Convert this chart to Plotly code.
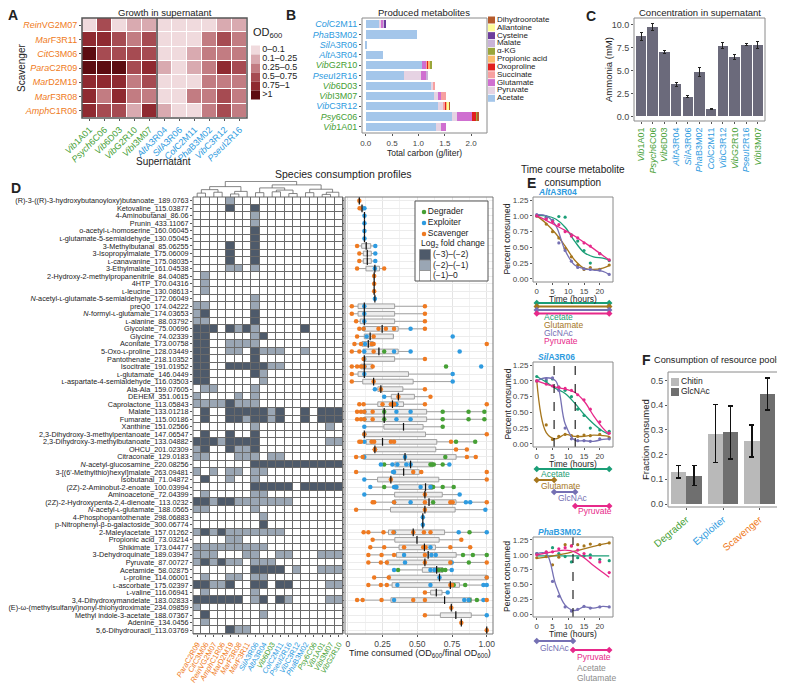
import numpy as np
import plotly.graph_objects as go

# the page body adds an 8px margin, so the figure is 8px smaller and positions are shifted
OX, OY = 8, 8
W, H = 785 - OX, 684 - OY
FONT = "Liberation Sans, Arial, sans-serif"
TXT = "#222222"

GREEN = "#46a035"
BLUE = "#2e9be0"
ORANGE = "#ef7a21"
GROUP_COLOR = {"D": GREEN, "E": BLUE, "S": ORANGE}

# ---------------- panel A: growth in supernatant ----------------
A_ROWS = [("Rein", "VG2M07"), ("Mar", "F3R11"), ("Cit", "C3M06"), ("Para", "C2R09"),
          ("Mar", "D2M19"), ("Mar", "F3R08"), ("Amph", "C1R06")]
A_COLS = [("Vib", "1A01", "D"), ("Psych", "6C06", "D"), ("Vib", "6D03", "D"), ("Vib", "G2R10", "D"),
          ("Vib", "I3M07", "D"), ("Alt", "A3R04", "E"), ("Sil", "A3R06", "E"), ("Col", "C2M11", "E"),
          ("Pha", "B3M02", "E"), ("Vib", "C3R12", "E"), ("Pseu", "I2R16", "E")]
A_BINS = ["0\u20130.1", "0.1\u20130.25", "0.25\u20130.5", "0.5\u20130.75", "0.75\u20131", ">1"]
A_COLORS = ["#f0dadd", "#d9aab0", "#c27c82", "#a64b52", "#8f2a31", "#5d0c11"]
A_LEVEL = [
    [0, 3, 0, 1, 1, 0, 0, 0, 0, 1, 1],
    [4, 4, 3, 2, 3, 0, 0, 0, 2, 3, 2],
    [5, 3, 3, 3, 3, 0, 0, 1, 2, 2, 2],
    [5, 5, 5, 3, 4, 1, 0, 1, 2, 4, 3],
    [4, 4, 4, 2, 3, 0, 0, 0, 2, 2, 2],
    [4, 2, 4, 2, 2, 0, 0, 2, 2, 3, 2],
    [4, 3, 3, 1, 4, 1, 0, 0, 2, 3, 2],
]

# ---------------- panel B: produced metabolites ----------------
B_STRAINS = [("Col", "C2M11", "E"), ("Pha", "B3M02", "E"), ("Sil", "A3R06", "E"), ("Alt", "A3R04", "E"),
             ("Vib", "G2R10", "D"), ("Pseu", "I2R16", "E"), ("Vib", "6D03", "D"), ("Vib", "I3M07", "D"),
             ("Vib", "C3R12", "E"), ("Psy", "6C06", "D"), ("Vib", "1A01", "D")]
B_METABOLITES = ["Acetate", "Pyruvate", "Glutamate", "Succinate", "Oxoproline", "Propionic acid",
                 "\u03b1-KG", "Malate", "Cysteine", "Allantoine", "Dihydroorotate"]
B_COLORS = ["#a4c6ea", "#e6d3e3", "#cf6fd0", "#f7a0a0", "#e2201e", "#fbbd6e",
            "#9aa63a", "#c9b3d8", "#6b3d9c", "#fdfd99", "#b55a2b"]
B_CARBON = [
    [0.27, 0.97, 0.01, 0.33, 1.06, 0.72, 1.24, 1.29, 1.38, 1.64, 1.34],  # Acetate
    [0.02, 0.00, 0.00, 0.00, 0.00, 0.33, 0.05, 0.08, 0.08, 0.09, 0.08],  # Pyruvate
    [0.04, 0.00, 0.00, 0.00, 0.09, 0.09, 0.00, 0.06, 0.00, 0.28, 0.11],  # Glutamate
    [0.00, 0.00, 0.00, 0.00, 0.02, 0.00, 0.03, 0.10, 0.05, 0.00, 0.00],  # Succinate
    [0.01, 0.00, 0.00, 0.00, 0.03, 0.00, 0.00, 0.00, 0.02, 0.09, 0.00],  # Oxoproline
    [0.00, 0.00, 0.00, 0.00, 0.01, 0.00, 0.00, 0.00, 0.03, 0.00, 0.00],  # Propionic acid
    [0.00, 0.00, 0.00, 0.00, 0.04, 0.00, 0.00, 0.00, 0.00, 0.02, 0.00],  # a-KG
    [0.02, 0.00, 0.00, 0.00, 0.00, 0.05, 0.00, 0.00, 0.00, 0.00, 0.00],  # Malate
    [0.01, 0.00, 0.00, 0.00, 0.00, 0.00, 0.00, 0.00, 0.00, 0.00, 0.00],  # Cysteine
    [0.00, 0.00, 0.00, 0.00, 0.00, 0.00, 0.00, 0.00, 0.02, 0.00, 0.00],  # Allantoine
    [0.00, 0.00, 0.00, 0.00, 0.00, 0.00, 0.00, 0.00, 0.01, 0.01, 0.00],  # Dihydroorotate
]

# ---------------- panel C: ammonia ----------------
C_STRAINS = [("Vib", "1A01", "D"), ("Psych", "6C06", "D"), ("Vib", "6D03", "D"), ("Alt", "A3R04", "E"),
             ("Sil", "A3R06", "E"), ("Pha", "B3M02", "E"), ("Col", "C2M11", "E"), ("Vib", "C3R12", "E"),
             ("Vib", "G2R10", "D"), ("Pseu", "I2R16", "E"), ("Vib", "I3M07", "D")]
C_AMMONIA = [8.7, 9.7, 7.0, 3.5, 2.15, 4.8, 0.8, 7.7, 6.45, 7.8, 7.75]
C_ERR = [0.4, 0.4, 0.2, 0.2, 0.08, 0.5, 0.1, 0.3, 0.25, 0.1, 0.4]

# ---------------- panel D: consumption profiles ----------------
D_METABOLITES = [
    "(R)-3-((R)-3-hydroxybutanoyloxy)butanoate_189.0763", "Ketovaline_115.03877",
    "4-Aminobutanal_86.06", "Prunin_433.11067", "\u1d0f-acetyl-\u029f-homoserine_160.06045",
    "\u029f-glutamate-5-semialdehyde_130.05045", "3-Methylbutanal_85.06255",
    "3-Isopropylmalate_175.06009", "\u029f-canavanine_175.08035", "3-Ethylmalate_161.04538",
    "2-Hydroxy-2-methylpropanenitrile_84.04085", "4HTP_170.04316", "\u029f-leucine_130.08613",
    "<i>N</i>-acetyl-\u029f-glutamate-5-semialdehyde_172.06049", "preQ0_174.04222",
    "<i>N</i>-formyl-\u029f-glutamate_174.03653", "\u029f-alanine_88.03792", "Glycolate_75.00696",
    "Glycine_74.02339", "Aconitate_173.00758", "5-Oxo-\u029f-proline_128.03449",
    "Pantothenate_218.10352", "Isocitrate_191.01952", "\u029f-glutamate_146.0449",
    "\u029f-aspartate-4-semialdehyde_116.03503", "Ala-Ala_159.07605", "DEHEM_351.0615",
    "Caprolactone_113.05843", "Malate_133.01218", "Fumarate_115.00186", "Xanthine_151.02566",
    "2,3-Dihydroxy-3-methylpentanoate_147.06547", "2,3-Dihydroxy-3-methylbutanoate_133.04882",
    "OHCU_201.02309", "Citraconate_129.0183", "<i>N</i>-acetyl-glucosamine_220.08256",
    "3-[(6'-Methylthio)hexyl]malate_263.09481", "Isobutanal_71.04872",
    "(2Z)-2-Aminobut-2-enoate_100.03994", "Aminoacetone_72.04399",
    "(2Z)-2-Hydroxypenta-2,4-dienoate_113.0232", "<i>N</i>-acetyl-\u029f-glutamate_188.0565",
    "4-Phosphopantothenate_298.06883", "p-Nitrophenyl-\u03b2-\u1d05-galactoside_300.06774",
    "2-Maleylacetate_157.01262", "Propionic acid_73.03214", "Shikimate_173.04477",
    "3-Dehydroquinate_189.03947", "Pyruvate_87.00727", "Acetamide_58.02875",
    "\u029f-proline_114.06001", "\u029f-ascorbate_175.02397", "\u029f-valine_116.06941",
    "3,4-Dihydroxymandelate_183.02833",
    "(E)-\u03c9-(methylsulfanyl)nonyl-thiohydroximate_234.09859",
    "Methyl indole-3-acetate_188.07367", "Adenine_134.0456", "5,6-Dihydrouracil_113.03769",
]
D_SPECIES = [("Para", "C2R09", "S"), ("Cit", "C3M06", "S"), ("Rein", "VG2M07", "S"), ("Amph", "C1R06", "S"),
             ("Mar", "D2M19", "S"), ("Mar", "F3R08", "S"), ("Mar", "F3R11", "S"), ("Sil", "A3R06", "E"),
             ("Alt", "A3R04", "E"), ("Vib", "6D03", "D"), ("Col", "C2M11", "E"), ("Pseu", "I2R16", "E"),
             ("Vib", "C3R12", "E"), ("Pha", "B3M02", "E"), ("Psy", "6C06", "D"), ("Vib", "1A01", "D"),
             ("Vib", "I3M07", "D"), ("Vib", "G2R10", "D")]
# log2 fold change class per cell: 0 = (-1)-0, 1 = (-2)-(-1), 2 = (-3)-(-2)
D_LEVELS = [
    "000010000000000000", "000020020000000000", "000000010000000000", "000000010000000000",
    "000000020000000000", "000000020000000000", "000020020000000000", "000020020000000000",
    "000020020000000000", "000011010000000000", "010000000000000000", "010000000000000000",
    "010000000000000000", "000000010000000000", "110000010000000000", "120000020000000000",
    "110000020000000000", "222021210000020000", "220000012000000000", "220011110000000000",
    "220011021110010000", "220000020000000000", "220022222110000000", "220000021000000000",
    "220000001000000000", "011000010000000000", "100001010000000000", "111121110000000000",
    "020022222120020222", "020022122120020222", "000000010000000010", "020020020000000000",
    "222122220000000011", "120021120000000000", "110001110110000000", "000000022222222222",
    "101011011000000000", "020010010000000000", "000000022222022222", "010000011000000000",
    "221221111111000000", "110000010000000000", "000000001000000000", "000000002000000000",
    "121211111110000000", "000011000000000000", "111111111000000000", "111000110011000111",
    "121211011100000000", "000000022220100111", "010011011000000000", "221120022022000011",
    "010000010000000000", "222222012021000011", "100000000000000000", "020000001000000000",
    "010000000000000000", "000021100000000000",
]
D_LEVEL_NAMES = ["(\u22121)\u20130", "(\u22122)\u2013(\u22121)", "(\u22123)\u2013(\u22122)"]
D_LEVEL_COLORS = ["#ffffff", "#9aa6b4", "#4e5a6a"]
# column clustering (left node, right node, height); leaves 0..17, new nodes from 18
D_LINKAGE = [
    (0, 1, 0.9), (2, 3, 1.1), (18, 19, 1.7), (4, 5, 0.7), (21, 6, 1.3), (20, 22, 2.4),
    (7, 8, 1.0), (9, 10, 1.2), (11, 12, 0.8), (25, 26, 1.6), (24, 27, 2.1),
    (13, 14, 1.0), (15, 16, 0.6), (30, 17, 1.1), (29, 31, 1.8), (28, 32, 2.8), (23, 33, 3.6),
]
# time consumed (OD600 / final OD600), by metabolite row (1-based) and group
D_SCA = {
    1: [0.083], 2: [0.085], 7: [0.067], 8: [0.083], 9: [0.083], 10: [0.067, 0.262],
    11: [0.19], 12: [0.19], 13: [0.19], 15: [0.029, 0.555], 16: [0.029, 0.555], 17: [0.06, 0.555],
    18: [0.083, 0.114, 0.221, 0.274, 0.333, 0.555], 19: [0.067, 0.186],
    20: [0.048, 0.095, 0.171, 0.186, 1.0], 21: [0.029, 0.083, 0.186], 22: [0.114, 0.555],
    23: [0.029, 0.067, 0.095, 0.119, 0.179], 24: [0.029], 25: [0.029, 0.186], 26: [0.238, 0.555],
    27: [0.364, 0.595], 28: [0.083, 0.114, 0.25, 0.31, 0.333, 0.555, 1.0],
    29: [0.067, 0.095, 0.119, 0.179], 30: [0.067, 0.095, 0.119, 0.179], 32: [0.119, 1.0],
    33: [0.083, 0.095, 0.171, 0.19, 0.31, 0.333, 0.743], 34: [0.195, 0.195, 0.195, 0.779, 0.857],
    35: [0.06, 0.107, 0.857, 0.921], 37: [0.06, 0.471, 0.529, 1.0], 38: [0.31, 1.0], 40: [0.555],
    41: [0.179, 0.19, 0.333, 0.555, 0.738, 0.755, 1.0], 42: [0.06, 0.555],
    45: [0.114, 0.148, 0.257, 0.329, 0.471, 0.548, 0.595], 46: [0.179, 0.817],
    47: [0.162, 0.262, 0.405, 0.543, 0.56, 0.738, 0.881], 48: [0.148, 0.243, 0.333, 0.555],
    49: [0.148, 0.238, 0.281, 0.555, 0.738, 1.0], 51: [0.19, 0.295, 1.0],
    52: [0.148, 0.238, 0.281, 0.738, 0.75], 53: [0.555], 54: [0.067, 0.107, 0.243, 0.471, 0.555, 1.0],
    55: [0.745], 56: [0.555], 57: [0.817], 58: [1.0],
}
D_EXP = {
    2: [0.12], 3: [0.12], 4: [0.12], 5: [0.12], 6: [0.12], 7: [0.198], 8: [0.198], 9: [0.198],
    10: [0.195], 14: [0.195], 15: [0.119], 16: [0.119], 17: [0.119], 18: [0.114, 0.452],
    19: [0.136, 0.755], 20: [0.124], 21: [0.119, 0.333, 0.452, 0.805], 22: [0.119],
    23: [0.119, 0.119, 0.96], 24: [0.119, 0.755], 25: [0.755], 26: [0.195], 27: [0.262], 28: [0.35],
    29: [0.119, 0.35, 0.452], 30: [0.119, 0.35, 0.452], 31: [0.119], 32: [0.119], 33: [0.119],
    34: [0.195], 35: [0.119, 0.412], 36: [0.238, 0.321, 0.357, 0.421, 0.452, 0.731],
    37: [0.326, 0.333], 38: [0.119], 39: [0.162, 0.333, 0.35, 0.524, 0.595], 40: [0.119, 0.805],
    41: [0.333, 0.452, 0.85, 0.881], 42: [0.99], 43: [0.54], 44: [0.54], 45: [0.333, 0.798, 1.0],
    47: [0.595], 48: [0.405, 0.602, 0.633], 49: [0.412, 0.748], 50: [0.333, 0.595, 0.624, 0.748],
    51: [0.66, 1.0], 52: [0.357, 0.595, 0.976, 1.0], 53: [0.719], 54: [0.333, 0.838, 0.869, 0.976],
    56: [1.0],
}
D_DEG = {
    21: [0.262], 23: [0.707], 29: [0.262, 0.683, 0.869, 0.983], 30: [0.262, 0.683, 0.869, 0.983],
    31: [0.683], 33: [0.779, 0.917], 35: [0.702], 36: [0.262, 0.595, 0.607, 0.619, 0.683],
    39: [0.262, 0.602, 0.614, 0.683, 0.762], 41: [0.614], 45: [0.876], 48: [0.829, 0.9, 1.0],
    49: [0.871], 50: [0.362, 0.655, 0.679, 0.702], 52: [0.762, 0.845], 54: [0.876, 0.929],
}

# ---------------- panel E: time courses ----------------
E_STRAINS = [("Alt", "A3R04"), ("Sil", "A3R06"), ("Pha", "B3M02")]
E_NAMES = ["Acetate", "Glutamate", "GlcNAc", "Pyruvate"]
E_COLORS = ["#1b9e77", "#a6761d", "#7570b3", "#e7298a"]
E_PT_T = [0, 3, 5, 7, 9, 11, 13, 15, 17, 20, 23]
E_FIT_T = [0, 3, 6, 9, 12, 15, 18, 21, 23]
E_PTS = [
    {"Acetate": [1.00, 0.98, 0.93, 0.99, 0.98, 0.70, 0.60, 0.45, 0.25, 0.40, 0.29],
     "Glutamate": [1.00, 0.87, 0.75, 0.65, 0.48, 0.35, 0.22, 0.15, 0.18, 0.15, 0.22],
     "GlcNAc": [1.02, 0.96, 0.93, 0.57, 0.45, 0.28, 0.18, 0.16, 0.15, 0.14, 0.07],
     "Pyruvate": [1.00, 0.95, 0.91, 0.86, 0.75, 0.68, 0.65, 0.57, 0.52, 0.40, 0.30]},
    {"Acetate": [1.07, 1.00, 1.03, 0.90, 0.85, 0.75, 0.55, 0.45, 0.25, 0.22, 0.20],
     "Glutamate": [1.00, 0.30, 0.07, 0.12, 0.15, 0.13, 0.12, 0.14, 0.13, 0.15, 0.10],
     "GlcNAc": [1.00, 1.03, 1.05, 0.85, 0.25, 0.08, 0.05, 0.05, 0.04, 0.08, 0.08],
     "Pyruvate": [1.00, 0.95, 0.92, 0.90, 0.88, 0.85, 0.78, 0.70, 0.55, 0.35, 0.17]},
    {"Acetate": [1.02, 1.04, 1.12, 1.02, 0.97, 0.88, 0.95, 0.98, 1.00, 0.92, 0.90],
     "Glutamate": [0.95, 0.97, 0.83, 0.96, 1.17, 1.15, 1.17, 1.15, 1.18, 1.17, 1.20],
     "GlcNAc": [1.02, 1.03, 0.55, 0.30, 0.12, 0.05, 0.08, 0.13, 0.10, 0.12, 0.12],
     "Pyruvate": [1.00, 1.05, 1.05, 1.10, 1.12, 1.15, 1.08, 1.02, 0.95, 0.88, 0.70]},
]
E_FIT = [
    {"Acetate": [1.01, 1.00, 0.95, 0.82, 0.60, 0.42, 0.35, 0.33, 0.30],
     "Glutamate": [1.00, 0.88, 0.72, 0.52, 0.30, 0.17, 0.15, 0.17, 0.21],
     "GlcNAc": [1.02, 1.00, 0.85, 0.45, 0.22, 0.16, 0.14, 0.12, 0.07],
     "Pyruvate": [1.00, 0.93, 0.85, 0.77, 0.68, 0.58, 0.48, 0.37, 0.30]},
    {"Acetate": [1.07, 0.98, 0.88, 0.80, 0.65, 0.47, 0.32, 0.20, 0.15],
     "Glutamate": [1.00, 0.18, 0.08, 0.15, 0.12, 0.12, 0.14, 0.13, 0.12],
     "GlcNAc": [1.00, 1.05, 1.00, 0.32, 0.06, 0.05, 0.04, 0.07, 0.08],
     "Pyruvate": [1.00, 0.95, 0.90, 0.87, 0.82, 0.68, 0.45, 0.25, 0.15]},
    {"Acetate": [0.98, 0.98, 0.98, 0.98, 0.98, 0.98, 0.98, 0.98, 0.98],
     "Glutamate": [0.94, 0.96, 0.99, 1.02, 1.06, 1.10, 1.14, 1.18, 1.20],
     "GlcNAc": [1.02, 1.02, 0.50, 0.15, 0.06, 0.12, 0.10, 0.13, 0.12],
     "Pyruvate": [1.00, 1.03, 1.06, 1.08, 1.05, 0.95, 0.82, 0.70, 0.62]},
]
E_WINDOWS = [
    {"Acetate": (0, 23), "Glutamate": (0, 23), "GlcNAc": (0, 23), "Pyruvate": (0, 23)},
    {"Acetate": (0, 23), "Glutamate": (0, 5.5), "GlcNAc": (5.5, 12.2), "Pyruvate": (12.2, 23)},
    {"GlcNAc": (0, 11.5), "Pyruvate": (11.5, 23)},
]
E_SWITCH = [[], [5.5, 12.2], [11.5]]

# ---------------- panel F: resource pools ----------------
F_GROUPS = [("Degrader", "D"), ("Exploiter", "E"), ("Scavenger", "S")]
F_CHITIN = [0.13, 0.285, 0.255]
F_CHITIN_ERR = [0.025, 0.117, 0.065]
F_GLCNAC = [0.115, 0.29, 0.445]
F_GLCNAC_ERR = [0.04, 0.107, 0.065]


# ---------------- helpers ----------------
def ref(prefix, i):
    return prefix if i == 1 else f"{prefix}{i}"


def strain(genus, sid, group):
    return f'<span style="color:{GROUP_COLOR[group]}"><i>{genus}</i>{sid}</span>'


def steps(colors):
    n = len(colors)
    out = []
    for k, c in enumerate(colors):
        out += [[k / n, c], [(k + 1) / n, c]]
    return out


def px(x):
    return (x - OX) / W


def py(y):
    return 1 - (y - OY) / H


layout = dict(
    width=W, height=H, margin=dict(l=0, r=0, t=0, b=0),
    paper_bgcolor="white", plot_bgcolor="white", showlegend=False,
    barmode="stack", font=dict(family=FONT, size=8, color=TXT),
)
shapes, annotations = [], []
fig = go.Figure()


def add_axes(i, x0, x1, y0, y1, xa=None, ya=None):
    base = dict(showgrid=False, zeroline=False, automargin=False, showline=False,
                ticks="", showticklabels=False, tickfont=dict(size=8, color="#333"))
    layout[ref("xaxis", i)] = {**base, "domain": [px(x0), px(x1)], "anchor": ref("y", i), **(xa or {})}
    layout[ref("yaxis", i)] = {**base, "domain": [py(y1), py(y0)], "anchor": ref("x", i), **(ya or {})}


def frame(i, color="#8a8a8a", width=1):
    shapes.append(dict(type="rect", xref=f"{ref('x', i)} domain", yref=f"{ref('y', i)} domain",
                       x0=0, x1=1, y0=0, y1=1, line=dict(color=color, width=width), layer="above"))


def text(s, x, y, size=9, color=TXT, xanchor="center", angle=0, bold=False):
    if bold:
        s = f"<b>{s}</b>"
    annotations.append(dict(text=s, x=px(x), y=py(y), xref="paper", yref="paper", showarrow=False,
                            font=dict(size=size, color=color), xanchor=xanchor, yanchor="middle",
                            textangle=angle))


TICK_OUT = dict(ticks="outside", ticklen=2, tickcolor="#555", tickwidth=0.8, showticklabels=True)

# ---------------- A ----------------
add_axes(1, 82, 247, 18, 118,
         xa=dict(range=[-0.5, 10.5], tickvals=list(range(11)), tickangle=-45,
                 ticktext=[strain(*c) for c in A_COLS], tickfont=dict(size=9), **TICK_OUT),
         ya=dict(range=[6.5, -0.5], tickvals=list(range(7)),
                 ticktext=[strain(g, s, "S") for g, s in A_ROWS], tickfont=dict(size=9), **TICK_OUT))
fig.add_trace(go.Heatmap(z=A_LEVEL, x=list(range(11)), y=list(range(7)), colorscale=steps(A_COLORS),
                         zmin=-0.5, zmax=len(A_COLORS) - 0.5, showscale=False, xgap=1, ygap=1,
                         hoverinfo="skip", xaxis="x", yaxis="y"))
shapes.append(dict(type="line", xref="x", yref="y domain", x0=4.5, x1=4.5, y0=0, y1=1,
                   line=dict(color="#555", width=1.6)))
frame(1, "#555", 1.5)
text("Growth in supernatant", 165, 12.5, size=9.5)
text("Supernatant", 163, 161, size=10)
text("Scavenger", 21, 68, size=10, angle=-90)

# legend A
add_axes(14, 250, 312, 25, 100, xa=dict(range=[0, 62]), ya=dict(range=[75, 0]))
fig.add_trace(go.Scatter(x=[5.5] * len(A_BINS), y=[25 + 9 * k for k in range(len(A_BINS))],
                         mode="markers+text", text=A_BINS, textposition="middle right",
                         textfont=dict(size=9, color=TXT),
                         marker=dict(symbol="square", size=9, color=A_COLORS),
                         hoverinfo="skip", xaxis="x14", yaxis="y14"))
annotations.append(dict(text="OD<sub>600</sub>", x=1, y=8, xref="x14", yref="y14", showarrow=False,
                        xanchor="left", yanchor="middle", font=dict(size=11, color=TXT)))

# ---------------- B ----------------
add_axes(2, 362, 487, 18, 133,
         xa=dict(range=[-0.07, 2.3], tickvals=[0, 0.5, 1, 1.5, 2], ticktext=["0.0", "0.5", "1.0", "1.5", "2.0"],
                 tickfont=dict(size=8, color="#444"), **TICK_OUT),
         ya=dict(range=[10.6, -0.6], tickvals=list(range(11)), ticktext=[strain(*s) for s in B_STRAINS],
                 tickfont=dict(size=9), **TICK_OUT))
for name, col, vals in zip(B_METABOLITES, B_COLORS, B_CARBON):
    fig.add_trace(go.Bar(x=vals, y=list(range(11)), orientation="h", marker=dict(color=col, line=dict(width=0)),
                         width=0.8, name=name, hoverinfo="skip", xaxis="x2", yaxis="y2"))
frame(2)
text("Produced metabolites", 424, 12.5, size=9.5)
text("Total carbon (g/liter)", 424, 153, size=8.5)

add_axes(15, 486, 580, 14, 102, xa=dict(range=[0, 94]), ya=dict(range=[88, 0]))
fig.add_trace(go.Scatter(x=[5.5] * 11, y=[6 + 7.83 * k for k in range(11)], mode="markers+text",
                         text=B_METABOLITES[::-1], textposition="middle right",
                         textfont=dict(size=8, color=TXT),
                         marker=dict(symbol="square", size=7, color=B_COLORS[::-1]),
                         hoverinfo="skip", xaxis="x15", yaxis="y15"))

# ---------------- C ----------------
add_axes(3, 634, 765, 18, 121,
         xa=dict(range=[-0.6, 10.6], tickvals=list(range(11)), ticktext=[strain(*s) for s in C_STRAINS],
                 tickangle=-90, tickfont=dict(size=9), **TICK_OUT),
         ya=dict(range=[-0.5, 10.7], tickvals=[0, 2.5, 5, 7.5, 10], ticktext=["0.0", "2.5", "5.0", "7.5", "10.0"],
                 tickfont=dict(size=9, color="#444"), **TICK_OUT))
fig.add_trace(go.Bar(x=list(range(11)), y=C_AMMONIA, width=0.9, marker=dict(color="#6b6a7b", line=dict(width=0)),
                     error_y=dict(type="data", array=C_ERR, color="#222", thickness=1, width=1.5),
                     hoverinfo="skip", xaxis="x3", yaxis="y3"))
frame(3)
text("Concentration in supernatant", 700, 12.5, size=9.5)
text("Ammonia (mM)", 608, 70, size=9.5, angle=-90)

# ---------------- D heatmap ----------------
n_met = len(D_METABOLITES)
levels = [[int(ch) for ch in row] for row in D_LEVELS]
add_axes(4, 193, 343, 197, 634,
         xa=dict(range=[-0.5, 17.5], tickvals=list(range(18)), ticktext=[strain(*s) for s in D_SPECIES],
                 tickangle=-60, tickfont=dict(size=7.5), **TICK_OUT),
         ya=dict(range=[n_met - 0.5, -0.5], tickvals=list(range(n_met)), ticktext=D_METABOLITES,
                 tickfont=dict(size=7.25, color="#222"), **TICK_OUT))
shapes.append(dict(type="rect", xref="x4", yref="y4", x0=-0.5, x1=17.5, y0=-0.5, y1=n_met - 0.5,
                   fillcolor="#6a6a6a", line=dict(width=0), layer="below"))
fig.add_trace(go.Heatmap(z=levels, x=list(range(18)), y=list(range(n_met)), colorscale=steps(D_LEVEL_COLORS),
                         zmin=-0.5, zmax=2.5, showscale=False, xgap=1, ygap=1, hoverinfo="skip",
                         xaxis="x4", yaxis="y4"))
frame(4, "#666", 1)

# dendrogram
add_axes(5, 193, 343, 181, 197, xa=dict(range=[-0.5, 17.5]), ya=dict(range=[0, 3.7]))
pos = {i: float(i) for i in range(18)}
hgt = {i: 0.0 for i in range(18)}
den_x, den_y = [], []
for k, (a, b, h) in enumerate(D_LINKAGE):
    den_x += [pos[a], pos[a], pos[b], pos[b], None]
    den_y += [hgt[a], h, h, hgt[b], None]
    pos[18 + k] = (pos[a] + pos[b]) / 2
    hgt[18 + k] = h
fig.add_trace(go.Scatter(x=den_x, y=den_y, mode="lines", line=dict(color="#666", width=0.8),
                         hoverinfo="skip", xaxis="x5", yaxis="y5"))

# box panel
add_axes(6, 345, 493, 197, 634,
         xa=dict(range=[-0.02, 1.045], tickvals=[0, 0.25, 0.5, 0.75, 1], ticktext=["0", "0.25", "0.50", "0.75", "1.00"],
                 showgrid=True, gridcolor="#e4e4e4", gridwidth=1,
                 minor=dict(tickvals=[0.125, 0.375, 0.625, 0.875], showgrid=True, gridcolor="#f2f2f2"),
                 tickfont=dict(size=8.5, color="#444"), **TICK_OUT),
         ya=dict(range=[n_met - 0.5, -0.5], tickvals=list(range(n_met)), showgrid=True, gridcolor="#ececec",
                 ticks="outside", ticklen=2, tickcolor="#555", tickwidth=0.8, showticklabels=False))
q1s, meds, q3s, los, his = [], [], [], [], []
for r in range(n_met):
    vals = np.sort(np.array(D_SCA.get(r + 1, []) + D_EXP.get(r + 1, []) + D_DEG.get(r + 1, [])))
    q1, med, q3 = np.percentile(vals, [25, 50, 75])
    iqr = q3 - q1
    q1s.append(q1)
    meds.append(med)
    q3s.append(q3)
    los.append(vals[vals >= q1 - 1.5 * iqr].min())
    his.append(vals[vals <= q3 + 1.5 * iqr].max())
fig.add_trace(go.Box(y=list(range(n_met)), q1=q1s, median=meds, q3=q3s, lowerfence=los, upperfence=his,
                     orientation="h", fillcolor="#ececec", line=dict(color="#9a9a9a", width=0.9),
                     width=0.62, boxpoints=False, hoverinfo="skip", xaxis="x6", yaxis="y6"))
for pts, key in [(D_DEG, "D"), (D_EXP, "E"), (D_SCA, "S")]:
    xs, ys = [], []
    for r, vals in pts.items():
        xs += vals
        ys += [r - 1] * len(vals)
    fig.add_trace(go.Scatter(x=xs, y=ys, mode="markers", marker=dict(size=4.5, color=GROUP_COLOR[key]),
                             hoverinfo="skip", xaxis="x6", yaxis="y6"))
fig.add_trace(go.Scatter(x=meds, y=list(range(n_met)), mode="markers",
                         marker=dict(symbol="line-ns", size=5.5, line=dict(color="#111", width=1.2)),
                         hoverinfo="skip", xaxis="x6", yaxis="y6"))
frame(6, "#777", 1)
text("Species consumption profiles", 343, 174, size=10.5)
text("Time consumed (OD<sub>600</sub>/final OD<sub>600</sub>)", 420, 653, size=9)

# legend D
add_axes(16, 415, 488, 201, 281, xa=dict(range=[0, 73]), ya=dict(range=[80, 0]))
fig.add_trace(go.Scatter(x=[9, 9, 9], y=[11, 22, 33], mode="markers+text",
                         text=["Degrader", "Exploiter", "Scavenger"], textposition="middle right",
                         textfont=dict(size=8.5, color=TXT),
                         marker=dict(size=4.5, color=[GREEN, BLUE, ORANGE]),
                         hoverinfo="skip", xaxis="x16", yaxis="y16"))
fig.add_trace(go.Scatter(x=[10, 10, 10], y=[54, 64.5, 75], mode="markers+text",
                         text=D_LEVEL_NAMES[::-1], textposition="middle right",
                         textfont=dict(size=8.5, color=TXT),
                         marker=dict(symbol="square", size=11, color=D_LEVEL_COLORS[::-1],
                                     line=dict(color="#888", width=0.8)),
                         hoverinfo="skip", xaxis="x16", yaxis="y16"))
annotations.append(dict(text="Log<sub>2</sub> fold change", x=4, y=43, xref="x16", yref="y16", showarrow=False,
                        xanchor="left", yanchor="middle", font=dict(size=8.5, color=TXT)))
frame(16, "#555", 1)

# ---------------- E ----------------
E_Y = [(197, 282), (362, 447), (537, 617)]
E_SEG_BOX = [(298, 345), (463, 516), (633, 684)]
E_SEG_Y = [{"Acetate": 303, "Glutamate": 306.5, "GlcNAc": 310, "Pyruvate": 313.5},
           {"Acetate": 469, "Glutamate": 480, "GlcNAc": 492, "Pyruvate": 506},
           {"GlcNAc": 641, "Pyruvate": 650}]
E_LAB = [{"Acetate": (1.5, 317), "Glutamate": (1.5, 325), "GlcNAc": (1.5, 333), "Pyruvate": (1.5, 341)},
         {"Acetate": (0.8, 474), "Glutamate": (0.6, 486), "GlcNAc": (6.2, 498), "Pyruvate": (12.6, 511)},
         {"GlcNAc": (0.5, 648), "Pyruvate": (12.0, 657), "Acetate": (12.0, 668), "Glutamate": (12.0, 678)}]
for k in range(3):
    ai, si = 7 + k, 10 + k
    y0, y1 = E_Y[k]
    add_axes(ai, 533, 613, y0, y1,
             xa=dict(range=[-1.2, 24.2], tickvals=[0, 5, 10, 15, 20], tickfont=dict(size=7.8, color="#444"),
                     **TICK_OUT),
             ya=dict(range=[-0.05, 1.3], tickvals=[0, 0.25, 0.5, 0.75, 1.0, 1.25],
                     ticktext=["0.00", "0.25", "0.50", "0.75", "1.00", "1.25"],
                     tickfont=dict(size=8, color="#444"), **TICK_OUT))
    for t in E_SWITCH[k]:
        shapes.append(dict(type="line", xref=ref("x", ai), yref=f"{ref('y', ai)} domain", x0=t, x1=t, y0=0, y1=1,
                           line=dict(color="#111", width=1.1, dash="dash")))
    for name, col in zip(E_NAMES, E_COLORS):
        fig.add_trace(go.Scatter(x=E_FIT_T, y=E_FIT[k][name], mode="lines", line=dict(color=col, width=1.3, shape="spline"),
                                 hoverinfo="skip", xaxis=ref("x", ai), yaxis=ref("y", ai)))
        fig.add_trace(go.Scatter(x=E_PT_T, y=E_PTS[k][name], mode="markers", marker=dict(color=col, size=3.2),
                                 hoverinfo="skip", xaxis=ref("x", ai), yaxis=ref("y", ai)))
    frame(ai)
    g, s = E_STRAINS[k]
    text(f'<b><i>{g}</i>{s}</b>', 536, y0 - 5, size=8.5, color=BLUE, xanchor="left")
    text("Percent consumed", 507, (y0 + y1) / 2, size=8.5, angle=-90)
    text("Time (hours)", 573, y1 + 17, size=8.5)

    sy0, sy1 = E_SEG_BOX[k]
    add_axes(si, 533, 613, sy0, sy1, xa=dict(range=[-1.2, 24.2]), ya=dict(range=[sy1, sy0]))
    for name, col in zip(E_NAMES, E_COLORS):
        if name in E_WINDOWS[k]:
            a, b = E_WINDOWS[k][name]
            yy = E_SEG_Y[k][name]
            fig.add_trace(go.Scatter(x=[a, b], y=[yy, yy], mode="lines+markers",
                                     line=dict(color=col, width=2), marker=dict(symbol="diamond", size=5, color=col),
                                     hoverinfo="skip", xaxis=ref("x", si), yaxis=ref("y", si)))
            lc = col
        else:
            lc = "#8c8c8c"
        lx, ly = E_LAB[k][name]
        annotations.append(dict(text=name, x=lx, y=ly, xref=ref("x", si), yref=ref("y", si), showarrow=False,
                                xanchor="left", yanchor="middle", font=dict(size=8.5, color=lc)))
text("Time course metabolite<br>consumption", 573, 176, size=10)

# ---------------- F ----------------
add_axes(13, 668, 778, 372, 507,
         xa=dict(range=[-0.5, 2.5], tickvals=[0, 1, 2],
                 ticktext=[f'<span style="color:{GROUP_COLOR[k]}">{n}</span>' for n, k in F_GROUPS],
                 tickangle=-40, tickfont=dict(size=10), **TICK_OUT),
         ya=dict(range=[-0.012, 0.534], tickvals=[0, 0.1, 0.2, 0.3, 0.4, 0.5],
                 ticktext=["0.0", "0.1", "0.2", "0.3", "0.4", "0.5"],
                 tickfont=dict(size=9, color="#444"), **TICK_OUT))
gx = np.arange(len(F_GROUPS))
fig.add_trace(go.Bar(x=gx - 0.21, y=F_CHITIN, width=0.42, marker=dict(color="#b9b9b9", line=dict(width=0)),
                     error_y=dict(type="data", array=F_CHITIN_ERR, color="#111", thickness=1.5, width=2.5),
                     hoverinfo="skip", xaxis="x13", yaxis="y13"))
fig.add_trace(go.Bar(x=gx + 0.21, y=F_GLCNAC, width=0.42, marker=dict(color="#6f6f6f", line=dict(width=0)),
                     error_y=dict(type="data", array=F_GLCNAC_ERR, color="#111", thickness=1.5, width=2.5),
                     hoverinfo="skip", xaxis="x13", yaxis="y13"))
frame(13)
text("Consumption of resource pools", 718, 360, size=9.2)
text("Fraction consumed", 645, 440, size=9.5, angle=-90)
add_axes(17, 670, 720, 375, 400, xa=dict(range=[0, 50]), ya=dict(range=[25, 0]))
fig.add_trace(go.Scatter(x=[5, 5], y=[7, 17], mode="markers+text", text=["Chitin", "GlcNAc"],
                         textposition="middle right", textfont=dict(size=8.5, color=TXT),
                         marker=dict(symbol="square", size=8, color=["#b9b9b9", "#6f6f6f"]),
                         hoverinfo="skip", xaxis="x17", yaxis="y17"))

# panel letters
for lab, x, y in [("A", 13, 15), ("B", 291, 15), ("C", 591, 16), ("D", 16, 188), ("E", 531, 183), ("F", 646, 360)]:
    text(lab, x, y, size=14, bold=True)

layout["shapes"] = shapes
layout["annotations"] = annotations
fig.update_layout(**layout)
fig.write_html("out.html")
